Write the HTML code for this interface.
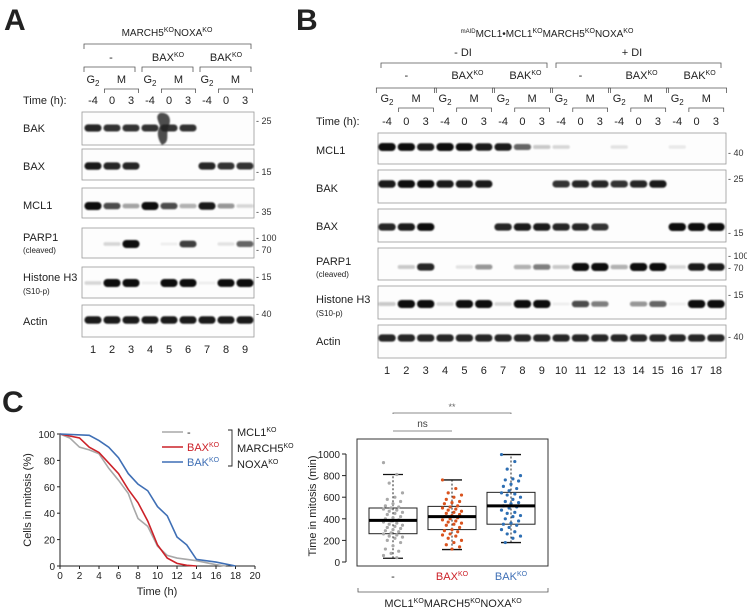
<!DOCTYPE html>
<html><head><meta charset="utf-8"><style>
body{margin:0;background:#fff}
svg{display:block;font-family:"Liberation Sans",Arial,sans-serif}
</style></head><body>
<svg id="fig" width="747" height="612" viewBox="0 0 747 612" xmlns="http://www.w3.org/2000/svg" fill="#222">
<defs><filter id="bl" x="-30%" y="-100%" width="160%" height="300%"><feGaussianBlur stdDeviation="0.9"/></filter></defs>
<g id="static" font-size="11">
<text x="4" y="30" font-size="30" font-weight="bold">A</text>
<text x="296" y="30" font-size="30" font-weight="bold">B</text>
<text x="2" y="412" font-size="30" font-weight="bold">C</text>
<text x="167" y="36" text-anchor="middle" font-size="10">MARCH5<tspan font-size="7" dy="-4">KO</tspan><tspan dy="4">NOXA</tspan><tspan font-size="7" dy="-4">KO</tspan></text>
<path d="M84,49V44H251V49" fill="none" stroke="#555" stroke-width="0.8"/>
<text x="111" y="61" text-anchor="middle">-</text>
<text x="168" y="61" text-anchor="middle">BAX<tspan font-size="7" dy="-4">KO</tspan></text>
<text x="226" y="61" text-anchor="middle">BAK<tspan font-size="7" dy="-4">KO</tspan></text>
<path d="M84,72V67H135V72M142,72V67H193V72M200,72V67H251V72" fill="none" stroke="#555" stroke-width="0.8"/>
<text x="23" y="104">Time (h):</text>
<text x="23" y="132">BAK</text><text x="23" y="170">BAX</text><text x="23" y="209">MCL1</text>
<text x="23" y="241">PARP1</text><text x="23" y="253" font-size="8">(cleaved)</text>
<text x="23" y="281">Histone H3</text><text x="23" y="294" font-size="8">(S10-p)</text>
<text x="23" y="325">Actin</text>
<text x="547" y="37" text-anchor="middle" font-size="10"><tspan font-size="6" dy="-4">mAID</tspan><tspan dy="4">MCL1•MCL1</tspan><tspan font-size="7" dy="-4">KO</tspan><tspan dy="4">MARCH5</tspan><tspan font-size="7" dy="-4">KO</tspan><tspan dy="4">NOXA</tspan><tspan font-size="7" dy="-4">KO</tspan></text>
<text x="463" y="56" text-anchor="middle">- DI</text><text x="632" y="56" text-anchor="middle">+ DI</text>
<path d="M381,68V63H547V68M556,68V63H721V68" fill="none" stroke="#555" stroke-width="0.8"/>
<text x="316" y="125">Time (h):</text>
<text x="316" y="154">MCL1</text><text x="316" y="192">BAK</text><text x="316" y="230">BAX</text>
<text x="316" y="265">PARP1</text><text x="316" y="277" font-size="8">(cleaved)</text>
<text x="316" y="303">Histone H3</text><text x="316" y="316" font-size="8">(S10-p)</text>
<text x="316" y="345">Actin</text>
</g>
<g id="dyn" font-size="11"></g>
</svg>
<script>
const aBAK=[0.85,0.8,0.8,0.8,0.8,0.8,0,0,0];
const aBAX=[0.9,0.85,0.85,0,0,0,0.85,0.8,0.8];
const aMCL1=[1,0.7,0.35,1,0.7,0.3,0.9,0.4,0.15];
const aPARP=[0,0.15,1,0,0.05,0.75,0,0.1,0.6];
const aH3=[0.15,1,1,0.05,1,1,0.05,0.95,1];
const aActin=[0.9,0.9,0.9,0.9,0.9,0.9,0.9,0.9,0.9];
const bMCL1=[1,0.95,0.9,1,0.95,0.9,0.9,0.6,0.2,0.15,0,0,0.1,0,0,0.08,0,0];
const bBAK=[0.9,0.95,0.95,0.9,0.9,0.9,0,0,0,0.8,0.85,0.85,0.8,0.85,0.9,0,0,0];
const bBAX=[0.85,0.9,0.95,0,0,0,0.85,0.9,0.9,0.85,0.85,0.8,0,0,0,1,1,1];
const bPARP=[0,0.2,0.85,0,0.1,0.4,0,0.3,0.5,0.2,1,1,0.3,1,1,0.15,0.9,0.9];
const bH3=[0.2,1,1,0.15,1,1,0.15,1,1,0.05,0.7,0.5,0,0.4,0.6,0.05,1,1];
const bActin=[0.85,0.85,0.85,0.85,0.85,0.85,0.85,0.85,0.85,0.85,0.85,0.85,0.85,0.85,0.85,0.85,0.85,0.85];
const timeLabels=["-4","0","3"];
const survT_ctrl=[0,1,2,3,4,5,6,7,7.5,8,9,10,11,12,14,16,17];
const survV_ctrl=[100,97,90,88,85,74,65,55,45,36,30,15,8,6,4,1,0];
const survT_bax=[0,2,3,4,5,6,7,8,9,10,11,12,13,14];
const survV_bax=[100,97,90,86,78,70,58,48,34,16,6,2,0.5,0];
const survT_bak=[0,3,4,5,6,7,8,9,10,11,12,13,14,16,18];
const survV_bak=[100,99,95,90,82,70,62,57,45,38,22,16,5,3,0];
const survX_ticks=[0,2,4,6,8,10,12,14,16,18,20];
const survY_ticks=[0,20,40,60,80,100];
const boxCats=["-","BAX","BAK"];
const boxQ1=[262,300,350];const boxMed=[385,420,520];const boxQ3=[500,515,645];
const boxLo=[35,115,180];const boxHi=[810,760,995];
const dots_ctrl=[920,810,730,640,600,580,560,540,520,510,500,490,480,470,460,450,440,420,410,400,390,380,370,360,350,340,330,320,310,300,290,280,270,260,250,240,230,220,200,180,150,120,100,80,60,40];
const dots_bax=[760,680,640,620,600,580,560,550,540,520,510,500,490,480,470,460,450,440,430,420,410,400,390,380,370,360,350,340,320,300,290,280,260,250,240,220,200,180,160,140,120];
const dots_bak=[995,930,860,800,770,760,750,720,700,680,660,640,630,620,600,580,560,550,540,520,510,500,480,460,450,430,420,400,380,360,350,340,320,300,280,260,240,220,180];
const boxY_ticks=[0,200,400,600,800,1000];

const NS="http://www.w3.org/2000/svg";
const dyn=document.getElementById('dyn');
function mk(tag,attrs,parent){const e=document.createElementNS(NS,tag);for(const k in attrs)e.setAttribute(k,attrs[k]);(parent||dyn).appendChild(e);return e;}
function txt(x,y,s,anchor,size,fill,parent){const t=mk('text',{x:x,y:y,'text-anchor':anchor||'middle'},parent);if(size)t.setAttribute('font-size',size);if(fill)t.setAttribute('fill',fill);t.textContent=s;return t;}

function blotPanel(prefix,x0,dx,x1,x2,rows,nl){
  rows.forEach(r=>{
    const g=mk('g',{});
    
    
    mk('rect',{x:x1,y:r.top,width:x2-x1,height:r.bot-r.top,fill:'#fdfdfd',stroke:'#999','stroke-width':0.8},g);
    r.vals.forEach((v,i)=>{
      if(v<=0)return;
      const cx=x0+dx*i;
      const h=3+5*v;
      const b=mk('rect',{x:cx-dx*0.45,y:r.band-h/2,width:dx*0.9,height:h,rx:h/2,fill:'#111',opacity:Math.min(1,v*1.05),filter:'url(#bl)'},g);
      
      
    });
    r.mw.forEach(m=>{txt(x2+2,m[1]+3,'- '+m[0],'start',9,'#333',g);});
  });
  for(let i=0;i<nl;i++){
    const t=txt(x0+dx*i,rows[rows.length-1].bot+16,String(i+1),'middle',11);
    
    
  }
}
function laneHeader(prefix,x0,dx,ng,yG,yM,yT,yBr){
  for(let g=0;g<ng;g++){
    const a=x0+dx*3*g;
    txt(a,yG,'G','middle',11).innerHTML='G<tspan font-size="8" dy="3">2</tspan>';
    txt(a+dx*1.5,yG,'M','middle',11);
    mk('path',{d:`M${a+dx*0.6},${yM+4}V${yM}H${a+dx*2.4}V${yM+4}`,fill:'none',stroke:'#555','stroke-width':0.8});
    for(let k=0;k<3;k++){const t=txt(a+dx*k,yT,timeLabels[k],'middle',11);}
    if(yBr)mk('path',{d:`M${a-dx*0.55},${yBr+5}V${yBr}H${a+dx*2.55}V${yBr+5}`,fill:'none',stroke:'#555','stroke-width':0.8});
  }
}
laneHeader('a',93,19,3,83,89,104,null);
blotPanel('a',93,19,82,254,[
 {name:'bak',top:112,bot:145,band:128,vals:aBAK,mw:[[25,121]]},
 {name:'bax',top:149,bot:180,band:166,vals:aBAX,mw:[[15,172]]},
 {name:'mcl1',top:188,bot:218,band:206,vals:aMCL1,mw:[[35,212]]},
 {name:'parp1',top:228,bot:258,band:244,vals:aPARP,mw:[[100,238],[70,250]]},
 {name:'histone-h3',top:267,bot:298,band:283,vals:aH3,mw:[[15,277]]},
 {name:'actin',top:305,bot:337,band:320,vals:aActin,mw:[[40,314]]}
],9);
mk('path',{d:'M160,113 C170,112 172,120 168,128 C166,136 170,142 162,145 C158,140 156,132 160,126 C158,120 155,116 160,113Z',fill:'#222',opacity:0.8,filter:'url(#bl)'});

const bx0=387,bdx=19.35;
const bGroups=["-","BAX","BAK","-","BAX","BAK"];
bGroups.forEach((s,g)=>{const cx=bx0+bdx*(3*g+1);const t=txt(cx,79,s,'middle',11);if(s!=='-'){t.innerHTML=s+'<tspan font-size="7" dy="-4">KO</tspan>';t.setAttribute('x',cx+3);}});
laneHeader('b',bx0,bdx,6,102,108,125,88);
blotPanel('b',bx0,bdx,378,726,[
 {name:'mcl1',top:133,bot:164,band:147,vals:bMCL1,mw:[[40,153]]},
 {name:'bak',top:170,bot:203,band:184,vals:bBAK,mw:[[25,179]]},
 {name:'bax',top:209,bot:242,band:227,vals:bBAX,mw:[[15,233]]},
 {name:'parp1',top:248,bot:280,band:267,vals:bPARP,mw:[[100,256],[70,268]]},
 {name:'histone-h3',top:286,bot:319,band:304,vals:bH3,mw:[[15,295]]},
 {name:'actin',top:325,bot:358,band:338,vals:bActin,mw:[[40,337]]}
],18);

const sx=v=>60+v*(255-60)/20, sy=v=>566-v*(566-434)/100;
mk('path',{d:`M60,434V566H255`,fill:'none',stroke:'#222','stroke-width':1});
survX_ticks.forEach(t=>{mk('line',{x1:sx(t),x2:sx(t),y1:566,y2:569,stroke:'#222'});txt(sx(t),579,String(t),'middle',10);});
survY_ticks.forEach(t=>{mk('line',{x1:57,x2:60,y1:sy(t),y2:sy(t),stroke:'#222'});txt(55,sy(t)+4,String(t),'end',10);});
txt(157,595,'Time (h)','middle',11);
const yt=txt(0,0,'Cells in mitosis (%)','middle',11);yt.setAttribute('transform','translate(31,500) rotate(-90)');
function linePath(T,V){return T.map((t,i)=>(i?'L':'M')+sx(t)+','+sy(V[i])).join('');}
[[survT_ctrl,survV_ctrl,'#a8a8a8','curve-control'],[survT_bax,survV_bax,'#cc2229','curve-bax-ko'],[survT_bak,survV_bak,'#3f6fb5','curve-bak-ko']].forEach(s=>{
 const p=mk('path',{d:linePath(s[0],s[1]),fill:'none',stroke:s[2],'stroke-width':1.6});
 
 
});
[[432,'#a8a8a8','-',''],[447,'#cc2229','BAX','KO'],[462,'#3f6fb5','BAK','KO']].forEach(l=>{
 const g=mk('g',{});
 mk('line',{x1:162,x2:183,y1:l[0],y2:l[0],stroke:l[1],'stroke-width':1.6},g);
 const t=txt(187,l[0]+4,l[2],'start',11,l[2]==='-'?'#222':l[1],g);
 if(l[3])t.innerHTML=l[2]+'<tspan font-size="7" dy="-4">KO</tspan>';
});
mk('path',{d:'M228,430H232V466H228',fill:'none',stroke:'#222','stroke-width':0.9});
[['MCL1',436],['MARCH5',452],['NOXA',468]].forEach(a=>{txt(237,a[1],'','start',11).innerHTML=a[0]+'<tspan font-size="7" dy="-4">KO</tspan>';});

const byF=v=>562-v*(562-454)/1000;
const bxF=i=>393+i*59;
mk('rect',{x:357,y:439,width:191,height:127,fill:'none',stroke:'#333','stroke-width':1});
boxY_ticks.forEach(t=>{mk('line',{x1:342,x2:346,y1:byF(t),y2:byF(t),stroke:'#222'});txt(340,byF(t)+4,String(t),'end',10);});
mk('line',{x1:346,x2:346,y1:byF(0),y2:byF(1000),stroke:'#222'});
const byt=txt(0,0,'Time in mitosis (min)','middle',11);byt.setAttribute('transform','translate(316,506) rotate(-90)');
const colsD=['#a9a9a9','#d9531e','#2e6fb3'];
const dotSets=[dots_ctrl,dots_bax,dots_bak];
boxCats.forEach((c,i)=>{
 const cx=bxF(i),w=24;
 const g=mk('g',{});
 mk('line',{x1:cx,x2:cx,y1:byF(boxLo[i]),y2:byF(boxHi[i]),stroke:'#222','stroke-dasharray':'2,2'},g);
 mk('line',{x1:cx-10,x2:cx+10,y1:byF(boxLo[i]),y2:byF(boxLo[i]),stroke:'#111','stroke-width':1.3},g);
 mk('line',{x1:cx-10,x2:cx+10,y1:byF(boxHi[i]),y2:byF(boxHi[i]),stroke:'#111','stroke-width':1.3},g);
 mk('rect',{x:cx-w,y:byF(boxQ3[i]),width:2*w,height:byF(boxQ1[i])-byF(boxQ3[i]),fill:'none',stroke:'#222'},g);
 dotSets[i].forEach((v,k)=>{
   const off=((k*7)%11-5)*1.9;
   const d=mk('circle',{cx:cx+off,cy:byF(v),r:1.6,fill:colsD[i]},g);
   
   
 });
 mk('line',{x1:cx-w,x2:cx+w,y1:byF(boxMed[i]),y2:byF(boxMed[i]),stroke:'#000','stroke-width':3},g);
 const lt=txt(cx,580,c,'middle',11,i===0?'#222':(i===1?'#cc2229':'#3f6fb5'));
 if(i>0)lt.innerHTML=c+'<tspan font-size="7" dy="-4">KO</tspan>';
});
mk('path',{d:`M${bxF(0)},414V413H${bxF(2)}V414`,fill:'none',stroke:'#666','stroke-width':0.8});
txt((bxF(0)+bxF(2))/2,410,'**','middle',9,'#666');
mk('path',{d:`M${bxF(0)},431H${bxF(1)}`,fill:'none',stroke:'#666','stroke-width':0.8});
txt((bxF(0)+bxF(1))/2,427,'ns','middle',10,'#444');
mk('path',{d:'M358,588V592H548V588',fill:'none',stroke:'#555','stroke-width':0.8});
txt(453,607,'','middle',11).innerHTML='MCL1<tspan font-size="7" dy="-4">KO</tspan><tspan dy="4">MARCH5</tspan><tspan font-size="7" dy="-4">KO</tspan><tspan dy="4">NOXA</tspan><tspan font-size="7" dy="-4">KO</tspan>';
</script>
</body></html>
